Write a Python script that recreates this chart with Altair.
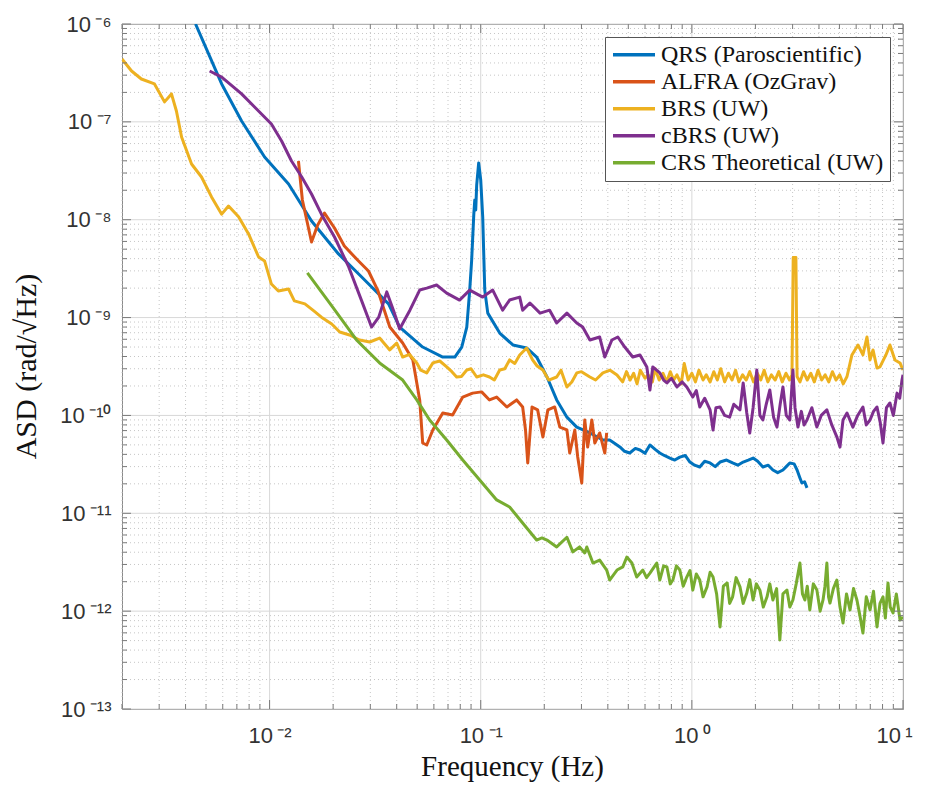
import altair as alt
import pandas as pd

# ---------------- data ----------------
series_names = ["QRS (Paroscientific)", "ALFRA (OzGrav)", "BRS (UW)", "cBRS (UW)", "CRS Theoretical (UW)"]
series_colors = ["#0072BD", "#D95319", "#EDB120", "#7E2F8E", "#77AC30"]

qrs_f = [4.46e-3, 5.93e-3, 7.37e-3, 9.47e-3, 1.23e-2, 1.58e-2, 2.12e-2, 2.73e-2, 3.66e-2, 4.13e-2,
         5.31e-2, 6.61e-2, 7.54e-2, 8.13e-2, 8.59e-2, 8.87e-2, 9.06e-2, 9.27e-2, 9.37e-2, 9.47e-2,
         9.57e-2, 9.78e-2, 0.100, 0.1022, 0.1045, 0.108, 0.123, 0.142, 0.165, 0.184,
         0.206, 0.229, 0.256, 0.285, 0.329, 0.379, 0.408, 0.43, 0.456, 0.48, 0.508, 0.54, 0.568,
         0.60, 0.633, 0.67, 0.705, 0.74, 0.787, 0.83, 0.877, 0.93, 0.979, 1.03, 1.09, 1.15,
         1.22, 1.29, 1.36, 1.46, 1.56, 1.65, 1.75, 1.85, 1.95, 2.05, 2.17, 2.30, 2.42, 2.55,
         2.70, 2.80, 2.91, 3.05, 3.15, 3.25, 3.32, 3.42, 3.51]
qrs_a = [1.0e-6, 2.44e-7, 1.02e-7, 4.38e-8, 2.32e-8, 9.7e-9, 4.47e-9, 2.6e-9, 1.38e-9, 8.0e-10,
         5.0e-10, 3.95e-10, 3.95e-10, 5.0e-10, 8.0e-10, 1.91e-9, 3.87e-9, 1.12e-8, 1.59e-8, 1.26e-8,
         2.26e-8, 3.8e-8, 2.55e-8, 1.07e-8, 1.91e-9, 1.11e-9, 6.95e-10, 5.25e-10, 4.89e-10, 3.95e-10,
         2.47e-10, 1.44e-10, 9.6e-11, 7.6e-11, 6.62e-11, 5.61e-11, 5.61e-11, 5.2e-11, 4.76e-11, 4.3e-11, 4.13e-11, 4.6e-11, 4.43e-11,
         4.1e-11, 4.99e-11, 4.5e-11, 4.13e-11, 3.9e-11, 3.67e-11, 3.5e-11, 3.75e-11, 3.9e-11, 3.34e-11, 3.1e-11, 2.97e-11, 3.4e-11,
         3.27e-11, 3.0e-11, 3.34e-11, 3.5e-11, 3.27e-11, 3.1e-11, 3.34e-11, 3.5e-11, 3.67e-11, 3.4e-11, 2.97e-11, 3.1e-11, 2.77e-11, 2.6e-11,
         2.77e-11, 3.0e-11, 3.27e-11, 3.2e-11, 2.77e-11, 2.3e-11, 2.04e-11, 2.1e-11, 1.82e-11]

alfra_f = [1.37e-2, 1.43e-2, 1.58e-2, 1.69e-2, 1.82e-2, 2.03e-2, 2.26e-2, 2.61e-2, 2.94e-2, 3.25e-2,
           3.71e-2, 4.27e-2, 4.77e-2, 5.14e-2, 5.31e-2, 5.55e-2, 5.93e-2, 6.61e-2, 7.36e-2, 8.22e-2,
           9.16e-2, 0.101, 0.110, 0.119, 0.133, 0.148, 0.158, 0.163, 0.167, 0.175,
           0.186, 0.197, 0.208, 0.224, 0.237, 0.256, 0.264, 0.279, 0.288, 0.301,
           0.311, 0.321, 0.336, 0.347, 0.366, 0.387, 0.395]
alfra_a = [3.98e-8, 1.59e-8, 5.92e-9, 8.83e-9, 1.17e-8, 8.23e-9, 5.39e-9, 3.87e-9, 2.99e-9, 1.91e-9,
           8.0e-10, 5.5e-10, 3.69e-10, 1.44e-10, 5.23e-11, 4.99e-11, 7.1e-11, 1.06e-10, 1.01e-10, 1.54e-10,
           1.69e-10, 1.74e-10, 1.44e-10, 1.54e-10, 1.22e-10, 1.44e-10, 1.22e-10, 7.1e-11, 3.27e-11, 1.22e-10,
           1.14e-10, 6.03e-11, 1.14e-10, 1.22e-10, 7.6e-11, 7.1e-11, 4.13e-11, 7.1e-11, 3.76e-11, 2.04e-11,
           8.98e-11, 4.76e-11, 8.98e-11, 5.23e-11, 6.62e-11, 4.13e-11, 6.62e-11]

brs_f = [2.0e-3, 2.22e-3, 2.47e-3, 2.85e-3, 3.18e-3, 3.43e-3, 3.62e-3, 3.83e-3, 4.27e-3, 4.76e-3,
         5.31e-3, 5.93e-3, 6.39e-3, 7.13e-3, 7.95e-3, 8.87e-3, 9.47e-3, 1.02e-2, 1.10e-2, 1.23e-2,
         1.31e-2, 1.47e-2, 1.62e-2, 1.76e-2, 1.97e-2, 2.15e-2, 2.39e-2, 2.67e-2, 2.98e-2, 3.32e-2,
         3.71e-2, 4.0e-2, 4.27e-2, 4.6e-2, 4.98e-2, 5.2e-2, 5.55e-2, 5.93e-2, 6.4e-2, 6.90e-2,
         7.3e-2, 7.69e-2, 8.1e-2, 8.59e-2, 9.0e-2, 9.57e-2, 0.103, 0.110, 0.116, 0.123,
         0.130, 0.137, 0.145, 0.153, 0.165, 0.176, 0.185, 0.197, 0.21, 0.229,
         0.24, 0.256, 0.27, 0.285, 0.30, 0.329, 0.35, 0.379, 0.41, 0.442,
         0.47, 0.49, 0.51, 0.53, 0.55, 0.57, 0.60, 0.62, 0.65, 0.67,
         0.70, 0.73, 0.76, 0.79, 0.82, 0.85, 0.89, 0.92, 0.96, 1.0,
         1.04, 1.08, 1.13, 1.17, 1.22, 1.27, 1.32, 1.37, 1.43, 1.49,
         1.55, 1.61, 1.67, 1.74, 1.81, 1.88, 1.96, 2.04, 2.12, 2.2,
         2.29, 2.38, 2.48, 2.58, 2.68, 2.79, 2.9, 2.98, 3.02, 3.11,
         3.15, 3.25, 3.38, 3.52, 3.66, 3.8, 3.96, 4.12, 4.28, 4.45,
         4.63, 4.82, 5.01, 5.21, 5.43, 5.73, 6.12, 6.46, 6.75, 6.98,
         7.21, 7.53, 7.78, 8.30, 8.67, 9.16, 9.68, 10.0]
brs_a = [4.39e-7, 3.31e-7, 2.74e-7, 2.44e-7, 1.60e-7, 1.93e-7, 1.29e-7, 7.0e-8, 3.71e-8, 2.73e-8,
         1.71e-8, 1.14e-8, 1.38e-8, 1.07e-8, 7.15e-9, 4.16e-9, 3.79e-9, 2.2e-9, 1.87e-9, 1.96e-9,
         1.48e-9, 1.38e-9, 1.17e-9, 1.01e-9, 8.6e-10, 7.13e-10, 6.64e-10, 5.9e-10, 5.63e-10, 6.18e-10,
         4.67e-10, 5.5e-10, 3.95e-10, 4.2e-10, 3.44e-10, 2.9e-10, 2.72e-10, 3.44e-10, 3.6e-10, 3.13e-10,
         2.8e-10, 2.47e-10, 2.5e-10, 2.91e-10, 3.0e-10, 2.47e-10, 2.6e-10, 2.47e-10, 2.3e-10, 2.91e-10,
         3.0e-10, 3.69e-10, 3.4e-10, 4.15e-10, 4.89e-10, 3.69e-10, 3.2e-10, 2.91e-10, 2.3e-10, 2.47e-10,
         2.9e-10, 1.95e-10, 2.2e-10, 2.72e-10, 2.8e-10, 2.47e-10, 2.3e-10, 2.72e-10, 2.9e-10, 2.59e-10,
         2.2e-10, 2.8e-10, 2.3e-10, 2.7e-10, 2.1e-10, 2.9e-10, 2.4e-10, 2.6e-10, 2.2e-10, 3.0e-10,
         2.3e-10, 2.7e-10, 2.2e-10, 2.8e-10, 2.3e-10, 2.6e-10, 2.1e-10, 3.4e-10, 2.3e-10, 2.7e-10,
         2.2e-10, 2.9e-10, 2.3e-10, 2.6e-10, 2.2e-10, 2.8e-10, 2.3e-10, 3.0e-10, 2.2e-10, 2.7e-10,
         2.3e-10, 2.9e-10, 2.2e-10, 2.6e-10, 2.3e-10, 2.8e-10, 2.2e-10, 2.7e-10, 2.3e-10, 2.9e-10,
         2.2e-10, 2.6e-10, 2.3e-10, 2.8e-10, 2.2e-10, 2.7e-10, 2.3e-10, 2.6e-10, 4.1e-9, 4.1e-9,
         2.5e-10, 2.2e-10, 2.8e-10, 2.3e-10, 2.7e-10, 2.2e-10, 2.9e-10, 2.3e-10, 2.6e-10, 2.2e-10,
         2.8e-10, 2.3e-10, 2.6e-10, 2.1e-10, 2.5e-10, 4.15e-10, 5.25e-10, 4.15e-10, 6.33e-10, 3.69e-10,
         4.67e-10, 3.05e-10, 3.13e-10, 4.15e-10, 5.25e-10, 3.69e-10, 3.44e-10, 2.91e-10]

cbrs_f = [5.2e-3, 5.93e-3, 7.37e-3, 8.49e-3, 1.02e-2, 1.14e-2, 1.27e-2, 1.42e-2, 1.58e-2, 1.76e-2,
          2.03e-2, 2.37e-2, 2.73e-2, 3.04e-2, 3.29e-2, 3.59e-2, 3.87e-2, 4.13e-2, 4.62e-2, 5.14e-2,
          5.55e-2, 6.18e-2, 6.90e-2, 7.94e-2, 8.87e-2, 0.1022, 0.114, 0.127, 0.137, 0.153,
          0.158, 0.171, 0.191, 0.212, 0.229, 0.256, 0.285, 0.304, 0.329, 0.366,
          0.387, 0.418, 0.446, 0.481, 0.525, 0.568, 0.612, 0.633, 0.653, 0.705,
          0.735, 0.762, 0.80, 0.850, 0.90, 0.946, 1.01, 1.05, 1.09, 1.15,
          1.22, 1.26, 1.30, 1.36, 1.43, 1.51, 1.58, 1.69, 1.75, 1.82,
          1.88, 1.95, 2.03, 2.10, 2.17, 2.25, 2.34, 2.44, 2.53, 2.62,
          2.70, 2.80, 2.91, 3.01, 3.08, 3.18, 3.30, 3.40, 3.51, 3.70,
          3.91, 4.10, 4.36, 4.60, 4.86, 5.03, 5.20, 5.43, 5.79, 6.10,
          6.46, 6.70, 6.98, 7.25, 7.53, 7.80, 8.04, 8.35, 8.67, 9.0,
          9.37, 9.65, 9.89, 10.0]
cbrs_a = [3.31e-7, 2.87e-7, 1.93e-7, 1.42e-7, 9.5e-8, 6.37e-8, 3.98e-8, 2.73e-8, 1.83e-8, 1.14e-8,
          6.66e-9, 3.29e-9, 1.48e-9, 8.0e-10, 1.01e-9, 1.83e-9, 1.17e-9, 7.64e-10, 1.19e-9, 1.91e-9,
          2.0e-9, 2.15e-9, 1.78e-9, 1.51e-9, 1.91e-9, 1.62e-9, 1.91e-9, 1.19e-9, 1.51e-9, 1.62e-9,
          1.19e-9, 1.41e-9, 1.11e-9, 1.19e-9, 8.8e-10, 1.11e-9, 8.8e-10, 8.0e-10, 5.9e-10, 6.33e-10,
          3.95e-10, 5.9e-10, 6.33e-10, 5.0e-10, 3.95e-10, 4.15e-10, 3.13e-10, 1.82e-10, 3.13e-10, 2.72e-10,
          2.3e-10, 2.15e-10, 2.4e-10, 1.95e-10, 2.2e-10, 1.95e-10, 1.54e-10, 1.8e-10, 1.22e-10, 1.5e-10,
          1.14e-10, 7.1e-11, 1.2e-10, 1.22e-10, 1.0e-10, 9.6e-11, 1.3e-10, 1.14e-10, 2.15e-10, 1.06e-10,
          6.62e-11, 1.2e-10, 2.91e-10, 1.0e-10, 8.98e-11, 1.3e-10, 1.82e-10, 9.5e-11, 7.6e-11, 1.3e-10,
          1.95e-10, 1.0e-10, 8.98e-11, 2.91e-10, 1.2e-10, 7.6e-11, 1.1e-10, 8.0e-11, 8.98e-11, 1.2e-10,
          7.6e-11, 1.0e-10, 1.14e-10, 8.0e-11, 6.03e-11, 4.76e-11, 9.0e-11, 1.06e-10, 7.6e-11, 1.0e-10,
          1.22e-10, 8.0e-11, 8.98e-11, 1.1e-10, 1.22e-10, 8.5e-11, 5.23e-11, 1.2e-10, 1.34e-10, 1.0e-10,
          1.69e-10, 1.5e-10, 2.3e-10, 2.6e-10]

crs_f = [1.51e-2, 1.99e-2, 2.58e-2, 3.32e-2, 4.27e-2, 4.98e-2, 5.73e-2, 6.90e-2, 8.22e-2, 9.89e-2,
         0.119, 0.137, 0.158, 0.184, 0.195, 0.206, 0.229, 0.256, 0.273, 0.294,
         0.311, 0.318, 0.340, 0.366, 0.395, 0.408, 0.442, 0.471, 0.492, 0.520,
         0.548, 0.586, 0.610, 0.633, 0.682, 0.705, 0.735, 0.762, 0.79, 0.813,
         0.845, 0.877, 0.91, 0.946, 0.98, 1.01, 1.05, 1.09, 1.13, 1.18,
         1.22, 1.26, 1.31, 1.36, 1.41, 1.47, 1.51, 1.56, 1.62, 1.69,
         1.75, 1.82, 1.88, 1.95, 2.02, 2.10, 2.18, 2.27, 2.34, 2.42,
         2.52, 2.61, 2.70, 2.82, 2.91, 3.01, 3.12, 3.25, 3.34, 3.43,
         3.52, 3.62, 3.76, 3.91, 4.05, 4.18, 4.27, 4.36, 4.44, 4.51,
         4.68, 4.86, 5.03, 5.20, 5.40, 5.61, 5.83, 6.05, 6.25, 6.46,
         6.70, 6.98, 7.25, 7.53, 7.78, 8.04, 8.25, 8.49, 8.70, 8.97,
         9.3, 9.68, 10.0]
crs_a = [2.86e-9, 1.28e-9, 5.9e-10, 3.44e-10, 2.3e-10, 1.44e-10, 8.98e-11, 5.61e-11, 3.5e-11, 2.19e-11,
         1.37e-11, 1.16e-11, 7.96e-12, 5.33e-12, 5.6e-12, 5.33e-12, 4.53e-12, 5.69e-12, 4.03e-12, 4.53e-12,
         3.93e-12, 4.53e-12, 3.1e-12, 3.33e-12, 2.63e-12, 2.08e-12, 2.63e-12, 2.83e-12, 3.57e-12, 3.1e-12,
         2.23e-12, 2.63e-12, 2.2e-12, 2.45e-12, 3.1e-12, 2.08e-12, 2.9e-12, 2.83e-12, 1.9e-12, 2.08e-12,
         2.9e-12, 2.63e-12, 1.8e-12, 2.23e-12, 2.6e-12, 1.64e-12, 2.4e-12, 2.08e-12, 1.4e-12, 1.77e-12,
         2.5e-12, 2.23e-12, 1.5e-12, 6.9e-13, 1.8e-12, 1.94e-12, 1.2e-12, 1.40e-12, 2.2e-12, 1.77e-12,
         1.2e-12, 1.53e-12, 2.1e-12, 1.30e-12, 1.9e-12, 1.64e-12, 1.1e-12, 1.40e-12, 1.9e-12, 1.30e-12,
         1.7e-12, 5.07e-13, 1.5e-12, 1.64e-12, 1.1e-12, 1.30e-12, 1.9e-12, 3.1e-12, 1.5e-12, 1.30e-12,
         1.8e-12, 1.03e-12, 1.9e-12, 1.64e-12, 1.0e-12, 1.30e-12, 1.8e-12, 3.1e-12, 1.4e-12, 1.21e-12,
         1.7e-12, 2.08e-12, 1.1e-12, 7.57e-13, 1.5e-12, 1.03e-12, 1.7e-12, 1.30e-12, 9.0e-13, 5.98e-13,
         1.4e-12, 1.03e-12, 1.6e-12, 6.9e-13, 1.2e-12, 1.40e-12, 8.5e-13, 1.94e-12, 1.1e-12, 9.58e-13,
         1.5e-12, 8.13e-13, 8.71e-13]

# axis tick positions / labels
x_major = [0.01, 0.1, 1.0, 10.0]
x_minor = [m * 10.0 ** e for e in range(-3, 1) for m in range(2, 10) if 0.002 <= m * 10.0 ** e < 10]
y_major = [10.0 ** e for e in range(-13, -5)]
y_minor = [m * 10.0 ** e for e in range(-13, -6) for m in range(2, 10)]
SUP = str.maketrans("-0123456789", "\u207b\u2070\u00b9\u00b2\u00b3\u2074\u2075\u2076\u2077\u2078\u2079")
x_labels = ["10\u2009" + str(e).translate(SUP) for e in range(-2, 2)]
y_labels = ["10\u2009" + str(e).translate(SUP) for e in range(-13, -5)]


def label_expr(majors, labels):
    # nested ternary: pick the label of the major tick nearest to datum.value
    expr = "'" + labels[-1] + "'"
    for v, lab in reversed(list(zip(majors[:-1], labels[:-1]))):
        expr = f"(datum.value < {v * 3.0:.3e} ? '{lab}' : {expr})"
    return expr


# ---------------- build ----------------
rows = []
for name, fs, vs in zip(series_names,
                        [qrs_f, alfra_f, brs_f, cbrs_f, crs_f],
                        [qrs_a, alfra_a, brs_a, cbrs_a, crs_a]):
    for f, v in zip(fs, vs):
        rows.append({"series": name, "f": f, "asd": v})
df = pd.DataFrame(rows)

W, H = 781, 685
xs = alt.Scale(type="log", domain=[0.002, 10], nice=False)
ys = alt.Scale(type="log", domain=[1e-13, 1e-6], nice=False)

axis_common = dict(
    grid=False, ticks=False, domain=False, labelOverlap=False, labelFlush=False,
    labelFont="Liberation Sans", labelFontSize=22, labelColor="#333333",
    titleFont="Liberation Serif", titleFontWeight="normal", titleColor="#111111",
)
x_axis = alt.Axis(values=x_major, labelExpr=label_expr(x_major, x_labels), labelPadding=16,
                  labelBaseline="top", title="Frequency (Hz)", titleFontSize=29,
                  labelOffset={"condition": {"test": "datum.value > 5", "value": -9}, "value": 0},
                  titleX=390, titleY=57, titleBaseline="middle", **axis_common)
y_axis = alt.Axis(values=y_major, labelExpr=label_expr(y_major, y_labels), labelPadding=11,
                  labelAlign="right", labelBaseline="middle", title="ASD (rad/\u221aHz)", titleFontSize=30,
                  titleX=-96, titleY=342, titleBaseline="middle", titleAngle=270, **axis_common)

tick_color = "#7a7a7a"


def grid_layer(vals, channel, dash, color):
    d = pd.DataFrame({"v": vals})
    if channel == "x":
        enc = dict(x=alt.X("v:Q", scale=xs, axis=x_axis))
    else:
        enc = dict(y=alt.Y("v:Q", scale=ys, axis=y_axis))
    return alt.Chart(d).mark_rule(color=color, strokeWidth=1, strokeDash=dash).encode(**enc)


def tick_layer(vals, side, length):
    d = pd.DataFrame({"v": vals})
    if side == "bottom":
        enc = dict(x=alt.X("v:Q", scale=xs, axis=x_axis), y=alt.value(H), y2=alt.value(H - length))
    elif side == "top":
        enc = dict(x=alt.X("v:Q", scale=xs, axis=x_axis), y=alt.value(0), y2=alt.value(length))
    elif side == "left":
        enc = dict(y=alt.Y("v:Q", scale=ys, axis=y_axis), x=alt.value(0), x2=alt.value(length))
    else:
        enc = dict(y=alt.Y("v:Q", scale=ys, axis=y_axis), x=alt.value(W), x2=alt.value(W - length))
    return alt.Chart(d).mark_rule(color=tick_color, strokeWidth=1).encode(**enc)


grid_layers = [
    grid_layer(x_minor, "x", [1, 3], "#c6c6c6"),
    grid_layer(y_minor, "y", [1, 3], "#c6c6c6"),
    grid_layer(x_major, "x", [1, 0], "#d8d8d8"),
    grid_layer(y_major, "y", [1, 0], "#d8d8d8"),
]

tick_layers = []
for side in ["bottom", "top"]:
    tick_layers.append(tick_layer(x_minor, side, 5))
    tick_layers.append(tick_layer(x_major, side, 9))
for side in ["left", "right"]:
    tick_layers.append(tick_layer(y_minor, side, 5))
    tick_layers.append(tick_layer(y_major, side, 9))

lines = alt.Chart(df).mark_line(strokeWidth=3, clip=True, strokeJoin="round").encode(
    x=alt.X("f:Q", scale=xs, axis=x_axis),
    y=alt.Y("asd:Q", scale=ys, axis=y_axis),
    color=alt.Color("series:N", sort=series_names,
                    scale=alt.Scale(domain=series_names, range=series_colors),
                    legend=alt.Legend(title=None, orient="top-right", offset=13,
                                      symbolType="stroke", symbolSize=1764, symbolStrokeWidth=3.5,
                                      clipHeight=23.5,
                                      labelFont="Liberation Serif", labelFontSize=24, labelColor="#111111",
                                      labelOffset=4, rowPadding=2, padding=6,
                                      strokeColor="#555555", fillColor="white", labelLimit=400)),
    order=alt.Order("f:Q"),
)

chart = alt.layer(*grid_layers, lines, *tick_layers).properties(
    width=W, height=H,
    padding={"left": 114, "top": 16, "right": 17, "bottom": 73},
    autosize=alt.AutoSizeParams(type="none"),
    background="white",
).configure_view(stroke="#8a8a8a", strokeWidth=1)

chart.save("out.html", embed_options={"renderer": "svg", "actions": False})
